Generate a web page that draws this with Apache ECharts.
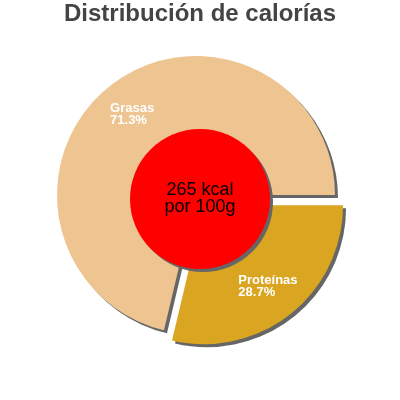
<!DOCTYPE html>
<html>
<head>
<meta charset="utf-8">
<script src="https://cdn.jsdelivr.net/npm/echarts@6/dist/echarts.min.js"></script>
<style>
  html, body { margin: 0; padding: 0; background: #fff; }
  #chart { width: 400px; height: 400px; }
</style>
</head>
<body>
<div id="chart"></div>
<script>
// data
const categories = ['Proteínas', 'Grasas']
const percents = [28.7, 71.3]
const colors = ['#DAA520', '#EEC591']
const exploded = [true, false]
const energyText = ['265 kcal', 'por 100g']

const font = 'Liberation Sans, Arial, sans-serif'
const center = [196, 195]
const shadow = {
    shadowColor: '#666',
    shadowBlur: 0,
    shadowOffsetX: 3,
    shadowOffsetY: 3
}

const slices = categories.map((name, i) => ({
    name: name,
    value: percents[i],
    selected: exploded[i],
    itemStyle: { color: colors[i] }
}))

const chart = echarts.init(document.getElementById('chart'), null, { renderer: 'canvas' })

let option = {
    backgroundColor: '#fff',
    animation: false,
    title: {
        text: 'Distribución de calorías',
        left: 'center',
        top: 0,
        padding: [2, 5],
        textStyle: {
            fontFamily: font,
            fontSize: 24,
            fontWeight: 'bold',
            color: '#444'
        }
    },
    series: [
        {
            // the slices
            type: 'pie',
            center: center,
            radius: [0, 139],
            startAngle: 0,
            clockwise: true,
            selectedMode: 'single',
            selectedOffset: 13,
            silent: true,
            label: { show: false },
            labelLine: { show: false },
            itemStyle: shadow,
            data: slices
        },
        {
            // invisible copy, only used to put the labels further out
            type: 'pie',
            center: center,
            radius: [61, 139],
            startAngle: 0,
            clockwise: true,
            selectedMode: 'single',
            selectedOffset: 13,
            silent: true,
            z: 5,
            avoidLabelOverlap: false,
            itemStyle: { color: 'rgba(0,0,0,0)' },
            label: {
                show: true,
                position: 'inside',
                formatter: p => '{a|' + p.name + '}\n{a|' + p.value + '%}',
                rich: {
                    a: {
                        align: 'left',
                        color: '#fff',
                        fontFamily: font,
                        fontSize: 13,
                        fontWeight: 'bold',
                        lineHeight: 12
                    }
                }
            },
            labelLine: { show: false },
            data: categories.map((name, i) => ({
                name: name,
                value: percents[i],
                selected: exploded[i]
            }))
        },
        {
            // red disc in the middle
            type: 'pie',
            center: [200, 199],
            radius: [0, 70],
            silent: true,
            z: 10,
            itemStyle: Object.assign({ color: '#ff0000' }, shadow),
            label: {
                show: true,
                position: 'center',
                formatter: energyText.join('\n'),
                color: '#000',
                fontFamily: font,
                fontSize: 18,
                lineHeight: 17
            },
            labelLine: { show: false },
            data: [{ name: 'kcal', value: 1 }]
        }
    ]
}

chart.setOption(option)
</script>
</body>
</html>
